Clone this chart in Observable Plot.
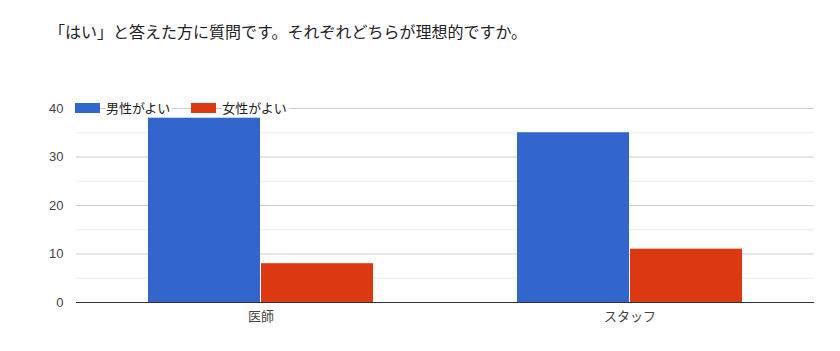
<!DOCTYPE html>
<html>
<head>
<meta charset="utf-8">
<script src="https://cdn.jsdelivr.net/npm/d3@7"></script>
<script src="https://cdn.jsdelivr.net/npm/@observablehq/plot@0.6"></script>
<style>
  body { margin: 0; background: #fff; font-family: "Liberation Sans", "Noto Sans CJK JP", sans-serif; }
  #wrap { position: relative; width: 840px; }
  #title { height: 60px; box-sizing: border-box; padding: 19px 0 0 49px; font-size: 16px; color: #222; font-family: "Noto Sans CJK JP", sans-serif; }
  #legend { position: absolute; top: 102px; left: 75px; display: flex; align-items: center; font-size: 13px; line-height: 19px; color: #222; font-family: "Noto Sans CJK JP", sans-serif; }
  #legend .item { display: flex; align-items: center; margin-right: 19px; }
  #legend .sw { width: 25px; height: 10px; margin-right: 6px; }
  #legend .txt { background: #fff; height: 11px; line-height: 11px; padding-right: 2px; }
</style>
</head>
<body>
<div id="wrap">
  <div id="title">「はい」と答えた方に質問です。それぞれどちらが理想的ですか。</div>
  <div id="chart"></div>
  <div id="legend"></div>
</div>
<script>
const categories = ["医師", "スタッフ"];
const series = ["男性がよい", "女性がよい"];
const maleValues = [38, 35];
const femaleValues = [8, 11];
const colors = ["#3366cc", "#dc3912"];
const majorTicks = [0, 10, 20, 30, 40];
const minorTicks = [5, 15, 25, 35];

const table = [];
categories.forEach((c, i) => {
  table.push({category: c, series: series[0], value: maleValues[i]});
  table.push({category: c, series: series[1], value: femaleValues[i]});
});

const chart = Plot.plot({
  width: 840,
  height: 291,
  marginTop: 48,
  marginBottom: 49,
  marginLeft: 75,
  marginRight: 26,
  style: {fontFamily: "'Liberation Sans', 'Noto Sans CJK JP', sans-serif", fontSize: "13px", color: "#444", background: "#fff"},
  fx: {domain: categories, padding: 0, axis: "bottom", label: null, tickSize: 0, tickPadding: 9},
  x: {domain: series, axis: null, paddingOuter: 0.63, paddingInner: 0.012},
  y: {domain: [0, 40], ticks: majorTicks, tickSize: 0, tickPadding: 13, label: null},
  color: {domain: series, range: colors},
  marks: [
    Plot.ruleY(minorTicks, {stroke: "#ebebeb", strokeWidth: 1}),
    Plot.ruleY(majorTicks, {stroke: "#cccccc", strokeWidth: 1}),
    Plot.barY(table, {fx: "category", x: "series", y: "value", fill: "series"}),
    Plot.ruleY([0], {stroke: "#333", strokeWidth: 1})
  ]
});
document.getElementById("chart").appendChild(chart);

const legend = document.getElementById("legend");
series.forEach((s, i) => {
  const item = document.createElement("div");
  item.className = "item";
  const sw = document.createElement("div");
  sw.className = "sw";
  sw.style.background = colors[i];
  const t = document.createElement("span");
  t.className = "txt";
  t.textContent = s;
  item.appendChild(sw);
  item.appendChild(t);
  legend.appendChild(item);
});
</script>
</body>
</html>
